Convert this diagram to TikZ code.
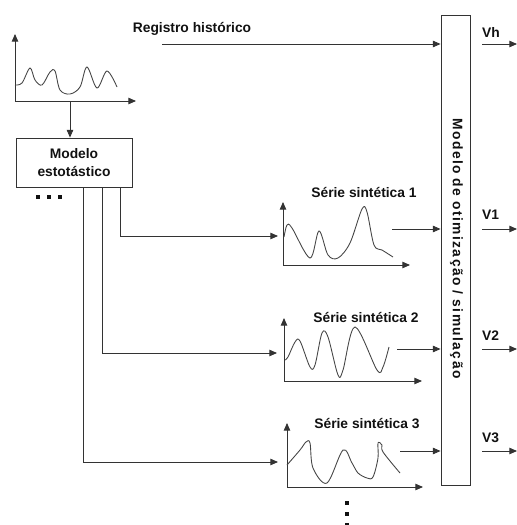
\documentclass[tikz,border=0pt]{standalone}
\usepackage{fontspec}
\setsansfont{Liberation Sans}
\newfontfamily\widesans[LetterSpace=10]{Liberation Sans}
\usepackage{tikz}
\usetikzlibrary{arrows.meta,positioning,calc}
\definecolor{cInk}{HTML}{111111}
\definecolor{cLine}{HTML}{333333}
\definecolor{cWave}{HTML}{444444}
\newcommand{\lblfont}{\sffamily\bfseries\fontsize{11.8}{15.3}\selectfont}
\tikzset{
  arr/.style={-{Triangle[length=6.5pt,width=5.5pt]},line width=0.75pt,color=cLine},
  axis/.style={arr},
  wave/.style={line width=0.75pt,color=cWave,smooth,tension=0.55},
  lbl/.style={font=\lblfont,text=cInk,inner sep=0pt},
  mbox/.style={draw=cLine,line width=0.75pt,align=center,font=\lblfont,text=cInk,inner sep=0pt},
  sq/.style={fill=cInk,inner sep=0pt,minimum size=0.11cm},
}

\begin{document}
\begin{tikzpicture}[x=0.03cm,y=-0.03cm]
  \useasboundingbox (0,0) rectangle (517,525);
  % historical record
  \coordinate (h0) at (15,101);
  \draw[axis] (h0) -- (15,34);
  \draw[axis] (h0) -- (136,101);
  \draw[wave] plot coordinates {(15,85) (22,83) (30,68) (35,80) (42,85) (50,72) (55,71) (60,90) (70,94) (80,87) (87,67) (97,88) (107,71) (117,87)};
  \coordinate (hout) at (70,101);
  \node[lbl] (reg) at (192,29) {Registro histórico};
  \coordinate (regini) at (162,44);
  % stochastic model
  \node[mbox,minimum width=3.48cm,minimum height=1.47cm] (modelo) at (74,162.5) {Modelo\\estotástico};
  \draw[arr] (hout) -- (modelo.north -| hout);
  \node[sq] (dh1) at (38,197) {};
  \node[sq] (dh2) at (49,197) {};
  \node[sq] (dh3) at (60,197) {};
  % optimisation / simulation model
  \node[draw=cLine,line width=0.75pt,minimum width=0.87cm,minimum height=14.1cm,inner sep=0pt] (otim) at (455.5,250) {};
  \node[lbl,rotate=-90] (otimtxt) at (456.5,248.5) {\widesans Modelo de otimização / simulação};
  \draw[arr] (regini) -- (regini -| otim.west);
  % synthetic series 1
  \coordinate (s1) at (283,265);
  \draw[axis] (s1) -- (283,202);
  \draw[axis] (s1) -- (410,265);
  \draw[wave] plot coordinates {(284,237) (287,225) (292,228) (310,258) (319,231) (328,255) (338,258) (350,243) (362,209) (367,212) (374,245) (382,250) (393,257)};
  \node[lbl] (t1) at (364,192) {Série sintética 1};
  \coordinate (s1in) at (278,236);
  \coordinate (s1out) at (392,229);
  % synthetic series 2
  \coordinate (s2) at (284,381);
  \draw[axis] (s2) -- (284,318);
  \draw[axis] (s2) -- (422,381);
  \draw[wave] plot coordinates {(285,360) (288,357) (295,342) (300,341) (310,367) (315,365) (322,333) (328,337) (338,375) (343,370) (355,327) (377,370) (383,367) (389,347)};
  \node[lbl] (t2) at (366,317) {Série sintética 2};
  \coordinate (s2in) at (277,353);
  \coordinate (s2out) at (397,349);
  % synthetic series 3
  \coordinate (s3) at (287,487);
  \draw[axis] (s3) -- (287,423);
  \draw[axis] (s3) -- (423,487);
  \draw[wave] plot coordinates {(287,465) (300,450) (306,442) (310,443) (313,468) (327,483) (343,450) (352,463) (358,473) (367,478) (373,477) (378,458) (378,443) (382,445) (383,452) (400,473)};
  \node[lbl] (t3) at (367,424) {Série sintética 3};
  \coordinate (s3in) at (278,462);
  \coordinate (s3out) at (400,451);
  \node[sq] (dv1) at (347,503) {};
  \node[sq] (dv2) at (347,514) {};
  \node[sq] (dv3) at (347,525) {};
  % model -> series
  \draw[arr] ($(modelo.south east)+(-12,0)$) |- (s1in);
  \draw[arr] ($(modelo.south east)+(-30,0)$) |- (s2in);
  \draw[arr] ($(modelo.south east)+(-49,0)$) |- (s3in);
  % series -> optimisation model
  \draw[arr] (s1out) -- (s1out -| otim.west);
  \draw[arr] (s2out) -- (s2out -| otim.west);
  \draw[arr] (s3out) -- (s3out -| otim.west);
  % outputs
  \coordinate (vh) at (517,44);
  \coordinate (v1) at (517,229);
  \coordinate (v2) at (517,349);
  \coordinate (v3) at (517,451);
  \foreach \v in {vh,v1,v2,v3}
    \draw[arr] ($(otim.east |- \v)+(12,0)$) -- (\v);
  \node[lbl,anchor=west] (lvh) at (482,32) {Vh};
  \node[lbl,anchor=west] (lv1) at (482,215) {V1};
  \node[lbl,anchor=west] (lv2) at (482,336) {V2};
  \node[lbl,anchor=west] (lv3) at (482,438) {V3};
\end{tikzpicture}
\end{document}
